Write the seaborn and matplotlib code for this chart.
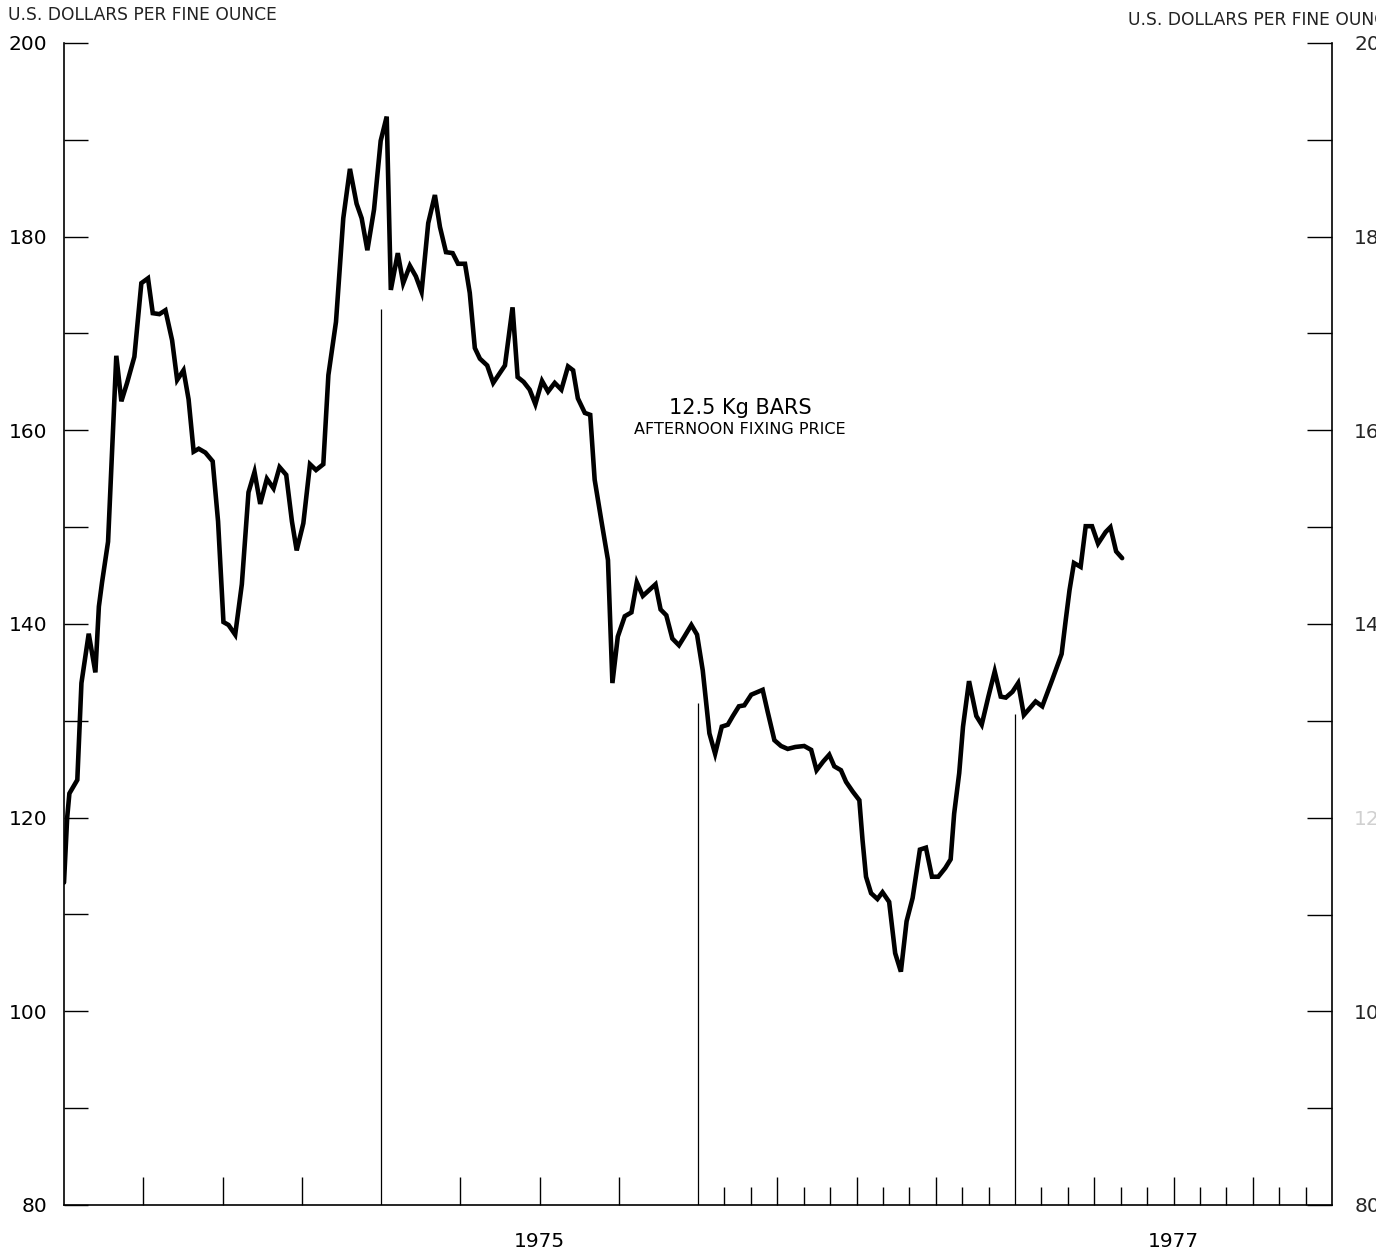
import numpy as np
import pandas as pd
import matplotlib
matplotlib.use("Agg")
import matplotlib.pyplot as plt
import seaborn as sns
from matplotlib.ticker import FixedLocator, NullFormatter

# ---------------- data ----------------
years = [
    1974.000, 1974.010, 1974.017, 1974.042, 1974.055, 1974.078, 1974.099, 1974.110,
    1974.120, 1974.139, 1974.165, 1974.181, 1974.199, 1974.222, 1974.244, 1974.265,
    1974.280, 1974.301, 1974.320, 1974.341, 1974.357, 1974.377, 1974.393, 1974.409,
    1974.425, 1974.446, 1974.469, 1974.486, 1974.503, 1974.519, 1974.540, 1974.561,
    1974.582, 1974.601, 1974.619, 1974.640, 1974.661, 1974.680, 1974.701, 1974.719,
    1974.734, 1974.755, 1974.776, 1974.795, 1974.818, 1974.834, 1974.858, 1974.881,
    1974.902, 1974.923, 1974.939, 1974.957, 1974.978, 1974.999,
    1975.018, 1975.031, 1975.053, 1975.070, 1975.091, 1975.110, 1975.128, 1975.149,
    1975.170, 1975.186, 1975.205, 1975.226, 1975.243, 1975.265, 1975.280, 1975.296,
    1975.312, 1975.335, 1975.354, 1975.391, 1975.415, 1975.431, 1975.450, 1975.469,
    1975.487, 1975.508, 1975.527, 1975.548, 1975.569, 1975.590, 1975.606, 1975.621,
    1975.643, 1975.660, 1975.674, 1975.695, 1975.716, 1975.730, 1975.747, 1975.769,
    1975.790, 1975.807, 1975.826, 1975.866, 1975.882, 1975.900, 1975.919, 1975.940,
    1975.957, 1975.979, 1975.997,
    1976.015, 1976.036, 1976.054, 1976.075, 1976.094, 1976.110, 1976.129, 1976.146,
    1976.168, 1976.204, 1976.220, 1976.241, 1976.262, 1976.283, 1976.307, 1976.335,
    1976.357, 1976.374, 1976.395, 1976.414, 1976.430, 1976.451, 1976.467, 1976.488,
    1976.509, 1976.519, 1976.530, 1976.546, 1976.566, 1976.582, 1976.603, 1976.622,
    1976.640, 1976.658, 1976.677, 1976.700, 1976.719, 1976.738, 1976.758, 1976.780,
    1976.797, 1976.808, 1976.824, 1976.836, 1976.855, 1976.878, 1976.895, 1976.916,
    1976.936, 1976.955, 1976.971, 1976.992,
    1977.010, 1977.028, 1977.044, 1977.065, 1977.086, 1977.117, 1977.147, 1977.160,
    1977.172, 1977.186, 1977.207, 1977.223, 1977.243, 1977.262, 1977.286, 1977.301,
    1977.319, 1977.338,
]
prices = [
    113.3, 120.0, 122.5, 123.9, 133.9, 139.0, 135.0, 141.8,
    144.3, 148.5, 167.7, 163.0, 164.9, 167.6, 175.2, 175.7,
    172.1, 172.0, 172.4, 169.3, 165.2, 166.2, 163.2, 157.8,
    158.1, 157.7, 156.8, 150.6, 140.2, 139.9, 138.9, 144.1,
    153.6, 155.7, 152.4, 155.0, 154.0, 156.2, 155.4, 150.6,
    147.6, 150.4, 156.5, 155.9, 156.5, 165.7, 171.2, 181.9,
    187.0, 183.4, 181.9, 178.6, 182.8, 189.9,
    192.4, 174.5, 178.3, 175.2, 177.0, 175.9, 174.3, 181.4,
    184.3, 181.0, 178.4, 178.3, 177.2, 177.2, 174.2, 168.5,
    167.4, 166.7, 164.9, 166.7, 172.7, 165.5, 165.0, 164.2,
    162.7, 165.1, 164.0, 164.9, 164.2, 166.6, 166.2, 163.3,
    161.8, 161.6, 154.9, 150.7, 146.6, 133.9, 138.7, 140.8,
    141.2, 144.3, 142.9, 144.1, 141.5, 140.9, 138.5, 137.8,
    138.7, 139.9, 138.9,
    135.2, 128.7, 126.6, 129.4, 129.6, 130.5, 131.5, 131.6,
    132.7, 133.2, 130.9, 128.0, 127.4, 127.1, 127.3, 127.4,
    127.0, 124.9, 125.8, 126.5, 125.3, 124.9, 123.7, 122.7,
    121.8, 117.7, 113.9, 112.2, 111.6, 112.3, 111.3, 106.0,
    104.1, 109.3, 111.7, 116.7, 116.9, 113.9, 113.9, 114.8,
    115.7, 120.4, 124.6, 129.4, 134.1, 130.5, 129.6, 132.5,
    135.1, 132.5, 132.4, 133.0,
    133.9, 130.6, 131.2, 132.0, 131.5, 134.2, 136.9, 140.4,
    143.5, 146.3, 145.9, 150.1, 150.1, 148.3, 149.5, 150.0,
    147.5, 146.8,
]

y_tick_values = list(range(80, 201, 10))
y_label_values = [80, 100, 120, 140, 160, 180, 200]
y_label_texts = ["80", "100", "120", "140", "160", "180", "200"]

year_starts = [1975, 1976, 1977]
year_line_tops = [172.5, 131.8, 130.7]
year_label_texts = ["1975", "1977"]
year_label_centers = [1975.5, 1977.5]

quarter_ticks = [y + q for y in (1974, 1975, 1976, 1977) for q in (0.25, 0.5, 0.75)]
month_ticks = [y + m / 12 for y in (1976, 1977) for m in range(1, 12) if m % 3 != 0]

header_text = "U.S. DOLLARS PER FINE OUNCE"
note_title = "12.5 Kg BARS"
note_sub = "AFTERNOON FIXING PRICE"

df = pd.DataFrame({"year": years, "price": prices})

# ---------------- figure ----------------
sns.set_theme(style="ticks")
plt.rcParams["font.family"] = ["DejaVu Sans"]

W, H = 1376, 1258
fig = plt.figure(figsize=(W / 100, H / 100), dpi=100)
fig.patch.set_facecolor("white")
ax = fig.add_axes([64 / W, 53 / H, 1268 / W, 1162 / H])
ax.set_facecolor("white")

sns.lineplot(data=df, x="year", y="price", ax=ax, color="black",
             linewidth=3.3, estimator=None, sort=False, legend=False)
for ln in ax.get_lines():
    ln.set_solid_joinstyle("miter")

ax.vlines(year_starts, 80, year_line_tops, color="black", linewidth=0.9)

ax.set_xlim(1974, 1978)
ax.set_ylim(80, 200)
ax.set_xlabel("")
ax.set_ylabel("")

for s in ("left", "bottom", "right"):
    ax.spines[s].set_visible(True)
    ax.spines[s].set_color("black")
    ax.spines[s].set_linewidth(1.2)
ax.spines["top"].set_visible(False)

# left y axis
ax.yaxis.set_major_locator(FixedLocator(y_label_values))
ax.set_yticklabels(y_label_texts)
ax.yaxis.set_minor_locator(FixedLocator([v for v in y_tick_values if v not in y_label_values]))
ax.tick_params(axis="y", which="both", direction="in", length=17, width=1.0,
               color="black", labelsize=14.5, pad=12, labelcolor="black")

# x axis ticks
ax.xaxis.set_major_locator(FixedLocator(quarter_ticks))
ax.xaxis.set_major_formatter(NullFormatter())
ax.xaxis.set_minor_locator(FixedLocator(month_ticks))
ax.xaxis.set_minor_formatter(NullFormatter())
ax.tick_params(axis="x", which="major", direction="in", length=20, width=1.0, color="black")
ax.tick_params(axis="x", which="minor", direction="in", length=13, width=1.0, color="black")

for xc, txt in zip(year_label_centers, year_label_texts):
    ax.text(xc, -0.031, txt, transform=ax.get_xaxis_transform(),
            ha="center", va="center", fontsize=14.5, color="black")

# right axis (labels run past the figure edge, as in the reference)
ax2 = ax.twinx()
ax2.set_ylim(80, 200)
ax2.yaxis.set_major_locator(FixedLocator(y_label_values))
ax2.set_yticklabels(y_label_texts)
ax2.yaxis.set_minor_locator(FixedLocator([v for v in y_tick_values if v not in y_label_values]))
ax2.tick_params(axis="y", which="both", direction="in", length=18, width=1.0,
                color="black", labelsize=14.5, pad=16)
for lab in ax2.get_yticklabels():
    if lab.get_text() == "120":
        lab.set_color("#d0d0d0")
for s in ax2.spines.values():
    s.set_visible(False)
ax2.grid(False)
ax.grid(False)

# header texts
fig.text(8 / W, 1 - 15 / H, header_text, ha="left", va="center",
         fontsize=12.3, color="#222222")
fig.text(1128 / W, 1 - 20 / H, header_text, ha="left", va="center",
         fontsize=12.3, color="#222222")

# annotation
ax.text(0.533, 0.686, note_title, transform=ax.transAxes, ha="center",
        va="center", fontsize=15, color="black")
ax.text(0.533, 0.667, note_sub, transform=ax.transAxes, ha="center",
        va="center", fontsize=11.5, color="black")

fig.savefig("out.png", dpi=100, facecolor="white")
